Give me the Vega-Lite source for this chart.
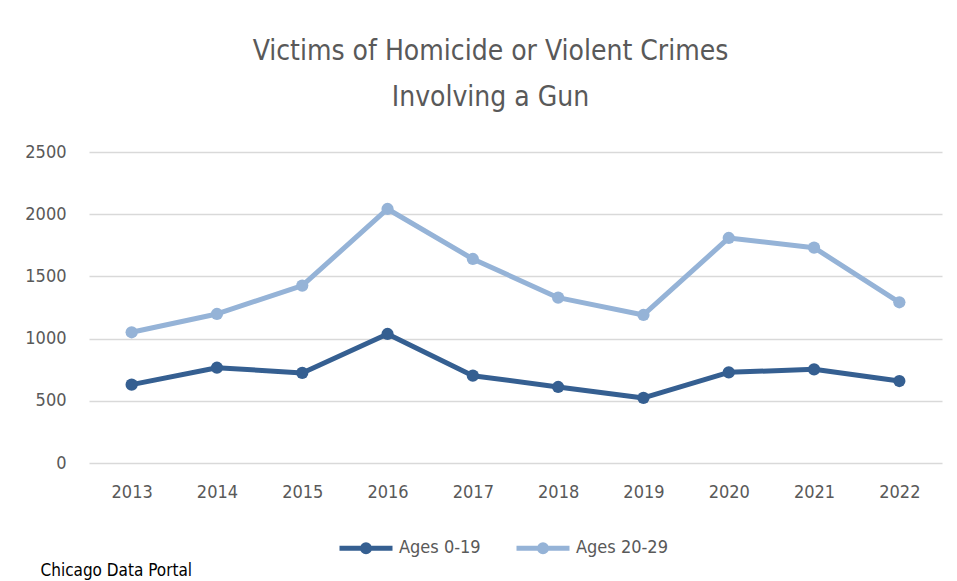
{
  "$schema": "https://vega.github.io/schema/vega-lite/v6.json",
  "autosize": "none",
  "width": 853,
  "height": 311,
  "padding": {"left": 89, "top": 152, "right": 15, "bottom": 118},
  "background": "white",
  "config": {
    "font": "DejaVu Sans Condensed, Roboto, sans-serif",
    "view": {"stroke": null},
    "axis": {"labelColor": "#595959", "labelFontSize": 18, "domain": false, "ticks": false}
  },
  "title": {
    "text": ["Victims of Homicide or Violent Crimes", "Involving a Gun"],
    "fontSize": 28,
    "fontWeight": "normal",
    "color": "#595959",
    "lineHeight": 46,
    "anchor": "middle",
    "frame": "group",
    "offset": 31,
    "dx": -25
  },
  "data": {
    "values": [
      {"year": "2013", "series": "Ages 0-19", "value": 630},
      {"year": "2014", "series": "Ages 0-19", "value": 766},
      {"year": "2015", "series": "Ages 0-19", "value": 724},
      {"year": "2016", "series": "Ages 0-19", "value": 1037},
      {"year": "2017", "series": "Ages 0-19", "value": 702},
      {"year": "2018", "series": "Ages 0-19", "value": 611},
      {"year": "2019", "series": "Ages 0-19", "value": 523},
      {"year": "2020", "series": "Ages 0-19", "value": 729},
      {"year": "2021", "series": "Ages 0-19", "value": 753},
      {"year": "2022", "series": "Ages 0-19", "value": 659},
      {"year": "2013", "series": "Ages 20-29", "value": 1051},
      {"year": "2014", "series": "Ages 20-29", "value": 1198},
      {"year": "2015", "series": "Ages 20-29", "value": 1426},
      {"year": "2016", "series": "Ages 20-29", "value": 2042},
      {"year": "2017", "series": "Ages 20-29", "value": 1640},
      {"year": "2018", "series": "Ages 20-29", "value": 1329},
      {"year": "2019", "series": "Ages 20-29", "value": 1190},
      {"year": "2020", "series": "Ages 20-29", "value": 1809},
      {"year": "2021", "series": "Ages 20-29", "value": 1731},
      {"year": "2022", "series": "Ages 20-29", "value": 1292}
    ]
  },
  "mark": {
    "type": "line",
    "strokeWidth": 5,
    "strokeCap": "round",
    "strokeJoin": "round",
    "point": {"filled": true, "size": 150, "opacity": 1}
  },
  "encoding": {
    "x": {
      "field": "year",
      "type": "ordinal",
      "scale": {"type": "point", "padding": 0.5},
      "axis": {
        "labelAngle": 0,
        "labelPadding": 20,
        "grid": false,
        "title": "Chicago Data Portal",
        "titleFontSize": 17,
        "titleFontWeight": "normal",
        "titleColor": "#000000",
        "titleAnchor": "start",
        "titleAlign": "left",
        "titleBaseline": "alphabetic",
        "titleX": -49,
        "titleY": 112
      }
    },
    "y": {
      "field": "value",
      "type": "quantitative",
      "scale": {"domain": [0, 2500], "nice": false},
      "axis": {
        "values": [0, 500, 1000, 1500, 2000, 2500],
        "format": "d",
        "title": null,
        "labelPadding": 23,
        "gridColor": "#D9D9D9",
        "gridWidth": 1.5
      }
    },
    "color": {
      "field": "series",
      "type": "nominal",
      "scale": {"domain": ["Ages 0-19", "Ages 20-29"], "range": ["#355F91", "#95B3D7"]},
      "legend": {
        "title": null,
        "orient": "none",
        "direction": "horizontal",
        "legendX": 248,
        "legendY": 367,
        "symbolType": "M -1 0 L 1 0 M 0.13 0 A 0.13 0.13 0 1 1 -0.13 0 A 0.13 0.13 0 1 1 0.13 0",
        "symbolSize": 2809,
        "symbolStrokeWidth": 5,
        "symbolFillColor": "transparent",
        "labelFontSize": 18,
        "labelColor": "#595959",
        "labelOffset": 4,
        "columnPadding": 25
      }
    }
  }
}
